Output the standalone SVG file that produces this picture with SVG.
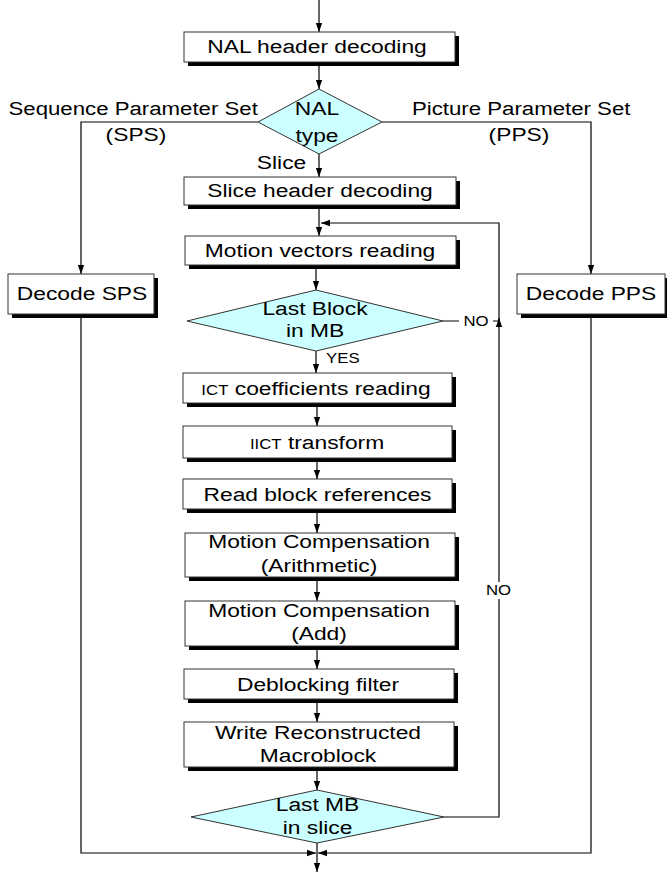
<svg xmlns="http://www.w3.org/2000/svg" width="667" height="873" viewBox="0 0 667 873">
<style>
.ln{fill:none;stroke:#000;stroke-width:1.2}
.sh{fill:#000}
.bx{fill:#fff;stroke:#333;stroke-width:1}
.dm{fill:#ccffff;stroke:#333;stroke-width:1}
text{font-family:"Liberation Sans",Arial,sans-serif;font-size:19px;fill:#000;text-anchor:middle}
.st{text-anchor:start}
.sm{font-size:14px}
</style>
<defs>
<marker id="ah" viewBox="0 0 10 10" refX="10" refY="5" markerWidth="9" markerHeight="9" orient="auto" markerUnits="userSpaceOnUse">
<path d="M0,1.5 L10,5 L0,8.5 z" fill="#000"/>
</marker>
</defs>
<rect width="667" height="873" fill="#fff"/>
<g id="connectors">
<path class="ln" d="M319,0 V32" marker-end="url(#ah)"/>
<path class="ln" d="M319,62 V89" marker-end="url(#ah)"/>
<path class="ln" d="M258,122 H81 V274" marker-end="url(#ah)"/>
<path class="ln" d="M382,122 H591 V274" marker-end="url(#ah)"/>
<path class="ln" d="M319,154 V177" marker-end="url(#ah)"/>
<path class="ln" d="M319,205 V236" marker-end="url(#ah)"/>
<path class="ln" d="M316,265 V290" marker-end="url(#ah)"/>
<path class="ln" d="M443,321 H499 V223 H321" marker-end="url(#ah)"/>
<path class="ln" d="M444,817 H499 V318" marker-end="url(#ah)"/>
<path class="ln" d="M316,351 V373" marker-end="url(#ah)"/>
<path class="ln" d="M317,403 V426" marker-end="url(#ah)"/>
<path class="ln" d="M317,458 V479" marker-end="url(#ah)"/>
<path class="ln" d="M317,509 V533" marker-end="url(#ah)"/>
<path class="ln" d="M317,577 V601" marker-end="url(#ah)"/>
<path class="ln" d="M317,646 V669" marker-end="url(#ah)"/>
<path class="ln" d="M317,699 V722" marker-end="url(#ah)"/>
<path class="ln" d="M317,767 V790" marker-end="url(#ah)"/>
<path class="ln" d="M317,843 V872" marker-end="url(#ah)"/>
<path class="ln" d="M81,314 V853 H316" marker-end="url(#ah)"/>
<path class="ln" d="M591,314 V853 H318" marker-end="url(#ah)"/>
<rect x="459" y="313" width="34" height="16" fill="#fff"/>
<text class="sm" transform="translate(476,326) scale(1.2,1)">NO</text>
<rect x="486" y="582" width="26" height="17" fill="#fff"/>
<text class="sm" transform="translate(498.5,595) scale(1.2,1)">NO</text>
<text class="sm st" transform="translate(326,363) scale(1.2,1)">YES</text>
<text class="st" transform="translate(8.5,115) scale(1.17,1)">Sequence Parameter Set</text>
<text transform="translate(136,141) scale(1.2,1)">(SPS)</text>
<text class="st" transform="translate(412,115) scale(1.17,1)">Picture Parameter Set</text>
<text transform="translate(519,141) scale(1.2,1)">(PPS)</text>
<text transform="translate(281.5,169) scale(1.2,1)">Slice</text>
</g>
<g id="nal_header">
<rect class="sh" x="188" y="36" width="271" height="30"/>
<rect class="bx" x="184" y="32" width="271" height="30"/>
<text transform="translate(317,53) scale(1.2,1)">NAL header decoding</text>
</g>
<g id="nal_type">
<polygon class="dm" points="319,89 382,122 319,154 258,122"/>
<text transform="translate(317,115) scale(1.2,1)">NAL</text>
<text transform="translate(317,142) scale(1.2,1)">type</text>
</g>
<g id="slice_header">
<rect class="sh" x="188" y="181" width="272" height="28"/>
<rect class="bx" x="184" y="177" width="272" height="28"/>
<text transform="translate(320,197) scale(1.2,1)">Slice header decoding</text>
</g>
<g id="decode_sps">
<rect class="sh" x="12" y="278" width="146" height="40"/>
<rect class="bx" x="8" y="274" width="146" height="40"/>
<text transform="translate(82,300) scale(1.2,1)">Decode SPS</text>
</g>
<g id="decode_pps">
<rect class="sh" x="521" y="278" width="148" height="40"/>
<rect class="bx" x="517" y="274" width="148" height="40"/>
<text transform="translate(591,300) scale(1.2,1)">Decode PPS</text>
</g>
<g id="motion_vectors">
<rect class="sh" x="189" y="240" width="271" height="29"/>
<rect class="bx" x="185" y="236" width="271" height="29"/>
<text transform="translate(320,257) scale(1.2,1)">Motion vectors reading</text>
</g>
<g id="last_block">
<polygon class="dm" points="316,290 443,321 316,351 187,321"/>
<text transform="translate(315,315) scale(1.2,1)">Last Block</text>
<text transform="translate(315,337) scale(1.2,1)">in MB</text>
</g>
<g id="ict_coeff">
<rect class="sh" x="187" y="377" width="269" height="30"/>
<rect class="bx" x="183" y="373" width="269" height="30"/>
<text transform="translate(316,395) scale(1.2,1)"><tspan class="sm">ICT</tspan> coefficients reading</text>
</g>
<g id="iict">
<rect class="sh" x="187" y="430" width="269" height="32"/>
<rect class="bx" x="183" y="426" width="269" height="32"/>
<text transform="translate(317,449) scale(1.2,1)"><tspan class="sm">IICT</tspan> transform</text>
</g>
<g id="read_block">
<rect class="sh" x="187" y="483" width="269" height="30"/>
<rect class="bx" x="183" y="479" width="269" height="30"/>
<text transform="translate(317.5,501) scale(1.2,1)">Read block references</text>
</g>
<g id="mc_arith">
<rect class="sh" x="189" y="537" width="270" height="44"/>
<rect class="bx" x="185" y="533" width="270" height="44"/>
<text transform="translate(319,548) scale(1.2,1)">Motion Compensation</text>
<text transform="translate(319,572) scale(1.2,1)">(Arithmetic)</text>
</g>
<g id="mc_add">
<rect class="sh" x="189" y="605" width="270" height="45"/>
<rect class="bx" x="185" y="601" width="270" height="45"/>
<text transform="translate(319,617) scale(1.2,1)">Motion Compensation</text>
<text transform="translate(319,640) scale(1.2,1)">(Add)</text>
</g>
<g id="deblocking">
<rect class="sh" x="188" y="673" width="270" height="30"/>
<rect class="bx" x="184" y="669" width="270" height="30"/>
<text transform="translate(318,691) scale(1.2,1)">Deblocking filter</text>
</g>
<g id="write_mb">
<rect class="sh" x="188" y="726" width="270" height="45"/>
<rect class="bx" x="184" y="722" width="270" height="45"/>
<text transform="translate(318,739) scale(1.2,1)">Write Reconstructed</text>
<text transform="translate(318,762) scale(1.2,1)">Macroblock</text>
</g>
<g id="last_mb">
<polygon class="dm" points="317,790 444,817 317,843 191,817"/>
<text transform="translate(317.5,811) scale(1.2,1)">Last MB</text>
<text transform="translate(317.5,834) scale(1.2,1)">in slice</text>
</g>
</svg>
